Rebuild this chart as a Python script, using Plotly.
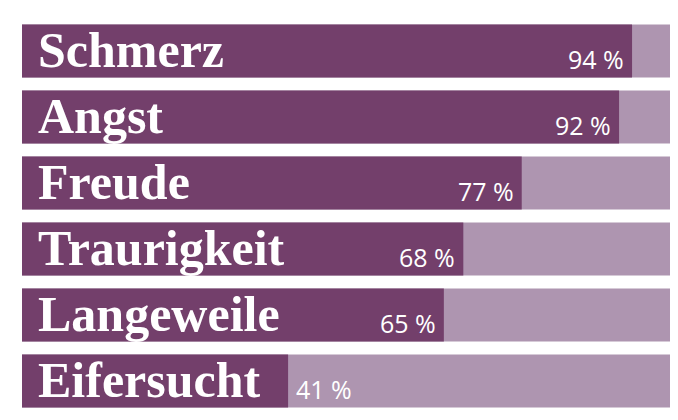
import plotly.graph_objects as go

categories = ["Schmerz", "Angst", "Freude", "Traurigkeit", "Langeweile", "Eifersucht"]
values = [94, 92, 77, 68, 65, 41]
value_labels = ["94 %", "92 %", "77 %", "68 %", "65 %", "41 %"]

dark = "#733f6b"
light = "#ae95b0"

fig = go.Figure()
fig.add_trace(go.Bar(y=categories, x=[100]*len(categories), orientation="h",
                     marker=dict(color=light, line=dict(width=0)), hoverinfo="skip"))
fig.add_trace(go.Bar(y=categories, x=values, orientation="h",
                     marker=dict(color=dark, line=dict(width=0))))

for c, v, t in zip(categories, values, value_labels):
    fig.add_annotation(x=0, y=c, text="<b>"+c+"</b>", showarrow=False, xanchor="left",
                       xshift=14, yshift=1,
                       font=dict(family="Liberation Serif", size=50, color="white"))
    inside = v > 50
    fig.add_annotation(x=v, y=c, text=t, showarrow=False,
                       xanchor="right" if inside else "left",
                       xshift=-6 if inside else 6, yshift=-8,
                       font=dict(family="Open Sans", size=25, color="white"))

fig.update_layout(
    width=678, height=420, barmode="overlay", bargap=0.2, showlegend=False,
    margin=dict(l=14, r=15, t=10, b=14, autoexpand=False),
    paper_bgcolor="white", plot_bgcolor="white",
    xaxis=dict(range=[0, 100], visible=False, fixedrange=True),
    yaxis=dict(autorange="reversed", visible=False, fixedrange=True),
)
fig.write_html("out.html")
